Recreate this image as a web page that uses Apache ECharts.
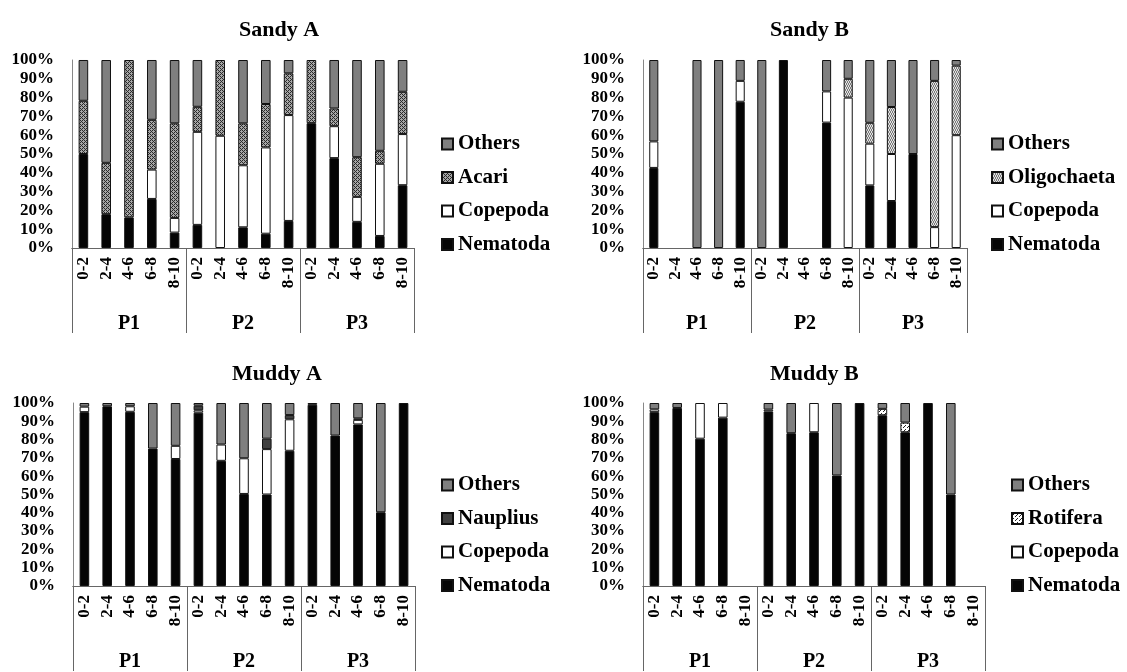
<!DOCTYPE html>
<html>
<head>
<meta charset="utf-8">
<script src="https://cdn.jsdelivr.net/npm/echarts@6/dist/echarts.min.js"></script>
<style>
html,body{margin:0;padding:0;background:#fff;}
#chart{width:1127px;height:672px;}
</style>
</head>
<body>
<div id="chart"></div>
<script>
// ---- data ----
const depths = ['0-2','2-4','4-6','6-8','8-10'];
const sites = ['P1','P2','P3'];
const yTicks = [0,10,20,30,40,50,60,70,80,90,100];

const panelTitles = ['Sandy A','Sandy B','Muddy A','Muddy B'];
const thirdTaxon = ['Acari','Oligochaeta','Nauplius','Rotifera'];

const sandyA_Nematoda = [50,18,16.3,26.1,8.2, 12.3,0,11,7.6,14.4, 66.4,47.8,13.9,6.4,33.4];
const sandyA_Copepoda = [0,0,0,15.6,7.8, 49.5,59.7,33,45.9,56.3, 0,17,13.3,38.4,27.2];
const sandyA_Acari    = [28.3,27.3,83.7,26.5,50.3, 13.3,40.3,22.3,23.1,22.2, 33.6,9.4,21.1,6.9,22.5];
const sandyA_Others   = [21.7,54.7,0,31.8,33.7, 24.9,0,33.7,23.4,7.1, 0,25.8,51.7,48.3,16.9];

const sandyB_Nematoda    = [42.6,0,0,0,77.8, 0,100,0,66.7,0, 33.3,25,50,0,0];
const sandyB_Copepoda    = [14.1,0,0,0,11.1, 0,0,0,16.6,80, 22.2,25,0,11.1,60];
const sandyB_Oligochaeta = [0,0,0,0,0, 0,0,0,0,10, 11.1,25,0,77.8,37];
const sandyB_Others      = [43.3,0,100,100,11.1, 100,0,0,16.7,10, 33.4,25,50,11.1,3];

const muddyA_Nematoda = [95,98.2,95.2,75.1,69.4, 94.7,68.4,50.3,50,73.9, 99,82.2,88.3,40.3,100];
const muddyA_Copepoda = [3,0,3,0,7.2, 1.3,8.9,19.5,24.8,17.2, 0,0,2.5,0,0];
const muddyA_Nauplius = [0,0,0,0,0, 2.5,0,0,5.7,2.3, 0,0,0.8,0,0];
const muddyA_Others   = [2,1.8,1.8,24.9,23.4, 1.5,22.7,30.2,19.5,6.6, 1,17.8,8.4,59.7,0];

const muddyB_Nematoda = [95,97.3,80.5,92,0, 95.4,83.5,84,60.4,100, 93.3,84,100,50,0];
const muddyB_Copepoda = [1.5,0,19.5,8,0, 1,0,16,0,0, 0,0,0,0,0];
const muddyB_Rotifera = [0,0,0,0,0, 0,0,0,0,0, 3.5,5.3,0,0,0];
const muddyB_Others   = [3.5,2.7,0,0,0, 3.6,16.5,0,39.6,0, 3.2,10.7,0,50,0];

// ---- patterns ----
function makePattern(bg, fg, pts, size){
  const c = document.createElement('canvas');
  c.width = size; c.height = size;
  const g = c.getContext('2d');
  g.fillStyle = bg; g.fillRect(0,0,size,size);
  g.fillStyle = fg;
  pts.forEach(p => g.fillRect(p[0],p[1],1,1));
  return {image: c, repeat: 'repeat'};
}
const acariFill = makePattern('#a6a6a6', '#2a2a2a', [[0,0],[1,1],[2,2],[3,3],[2,0],[0,2]], 4);
const oligoFill = makePattern('#e2e2e2', '#7a7a7a', [[0,0],[1,1],[2,0],[3,1],[0,3],[1,2],[2,3],[3,2]], 4);
const rotiFill  = makePattern('#ffffff', '#222222', [[1,1],[3,3],[0,2]], 4);

const colOthers = '#7f7f7f';
const colNema = '#050505';
const colCope = '#ffffff';
const thirdColors = [acariFill, oligoFill, '#404040', rotiFill];

const panelData = [
  [sandyA_Nematoda, sandyA_Copepoda, sandyA_Acari, sandyA_Others],
  [sandyB_Nematoda, sandyB_Copepoda, sandyB_Oligochaeta, sandyB_Others],
  [muddyA_Nematoda, muddyA_Copepoda, muddyA_Nauplius, muddyA_Others],
  [muddyB_Nematoda, muddyB_Copepoda, muddyB_Rotifera, muddyB_Others]
];

const categories = [];
sites.forEach(s => depths.forEach(d => categories.push(s + '|' + d)));

// ---- layout ----
const FONT = "'Liberation Serif','Times New Roman',serif";
const gridsLayout = [
  {left: 72, top: 60, width: 342, height: 188},
  {left: 643, top: 60, width: 324, height: 188},
  {left: 73, top: 403, width: 342, height: 189},
  {left: 643, top: 403, width: 342, height: 189}
];
const titlePos = [
  {left: 234, top: 14},
  {left: 765, top: 14},
  {left: 227, top: 358},
  {left: 765, top: 358}
];
const legendPos = [
  {left: 441, top: 133},
  {left: 991, top: 133},
  {left: 441, top: 474},
  {left: 1011, top: 474}
];

const option = {
  animation: false,
  backgroundColor: '#fff',
  title: panelTitles.map((t,i) => ({
    text: t, left: titlePos[i].left, top: titlePos[i].top,
    textStyle: {fontFamily: FONT, fontWeight: 'bold', fontSize: 22, color: '#000'}
  })),
  grid: gridsLayout,
  legend: panelTitles.map((t,i) => ({
    orient: 'vertical', left: legendPos[i].left, top: legendPos[i].top,
    padding: 0,
    itemWidth: 11, itemHeight: 11, itemGap: 11.5, icon: 'rect',
    selectedMode: false,
    data: ['Others', thirdTaxon[i], 'Copepoda', 'Nematoda'],
    textStyle: {fontFamily: FONT, fontWeight: 'bold', fontSize: 21, color: '#000', lineHeight: 22}
  })),
  xAxis: [],
  yAxis: [],
  series: []
};

panelTitles.forEach((t,i) => {
  option.xAxis.push({
    type: 'category', gridIndex: i, data: categories, position: 'bottom',
    axisLine: {show: true, lineStyle: {color: '#666'}},
    axisTick: {show: false},
    axisLabel: {
      interval: 0, rotate: 90, margin: 9,
      fontFamily: FONT, fontWeight: 'bold', fontSize: 17, color: '#000',
      formatter: v => v.split('|')[1]
    }
  });
  option.xAxis.push({
    type: 'category', gridIndex: i, data: sites, position: 'bottom',
    axisLine: {show: true, lineStyle: {color: '#666'}},
    axisTick: {show: true, length: 85, interval: 0, lineStyle: {color: '#666'}},
    axisLabel: {margin: 66, fontFamily: FONT, fontWeight: 'bold', fontSize: 20, color: '#000'}
  });
  option.yAxis.push({
    type: 'value', gridIndex: i, min: 0, max: 100, interval: 10,
    axisLine: {show: true, lineStyle: {color: '#888'}},
    axisTick: {show: false},
    splitLine: {show: false},
    axisLabel: {margin: 18, fontFamily: FONT, fontWeight: 'bold', fontSize: 17, color: '#000',
      formatter: '{value}%'}
  });
  const names = ['Nematoda','Copepoda', thirdTaxon[i], 'Others'];
  const colors = [colNema, colCope, thirdColors[i], colOthers];
  names.forEach((n,k) => {
    option.series.push({
      type: 'bar', name: n, stack: 'p' + i,
      xAxisIndex: 2*i, yAxisIndex: i,
      barWidth: '42%',
      data: panelData[i][k].map(v => v === 0 ? '-' : v),
      itemStyle: {color: colors[k], borderColor: '#111', borderWidth: 1}
    });
  });
});

const chart = echarts.init(document.getElementById('chart'), null, {renderer: 'canvas'});
chart.setOption(option);
</script>
</body>
</html>
